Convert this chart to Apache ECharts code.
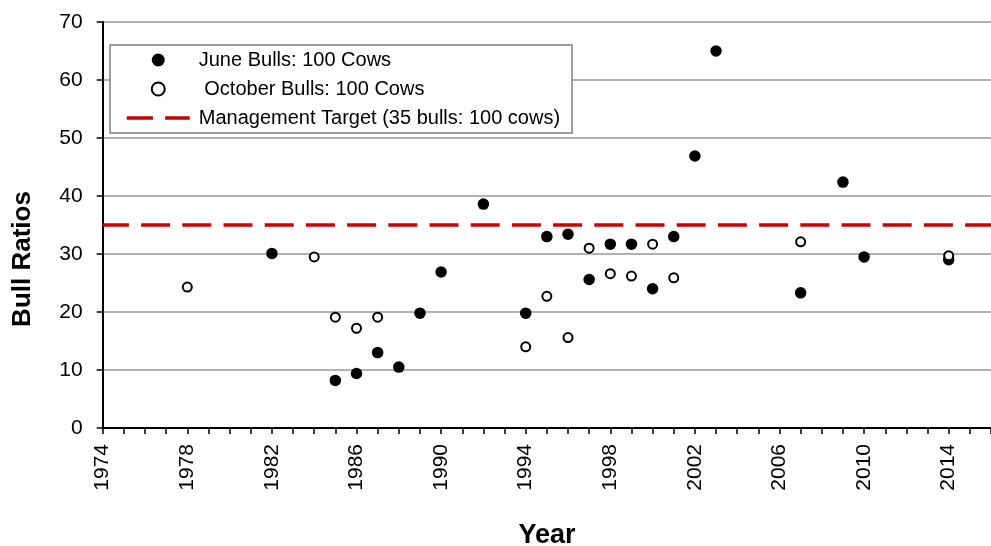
<!DOCTYPE html>
<html>
<head>
<meta charset="utf-8">
<script src="https://cdn.jsdelivr.net/npm/echarts@6/dist/echarts.min.js"></script>
<style>html,body{margin:0;padding:0;background:#fff;}#c{width:991px;height:546px;}</style>
</head>
<body>
<div id="c"></div>
<script>
const juneYears = [1982, 1985, 1986, 1987, 1988, 1989, 1990, 1992, 1994, 1995, 1996, 1997, 1998, 1999, 2000, 2001, 2002, 2003, 2007, 2009, 2010, 2014];
const juneValues = [30.1, 8.2, 9.4, 13.0, 10.5, 19.8, 26.9, 38.6, 19.8, 33.0, 33.4, 25.6, 31.7, 31.7, 24.0, 33.0, 46.9, 65.0, 23.3, 42.4, 29.5, 29.0];
const octYears = [1978, 1984, 1985, 1986, 1987, 1994, 1995, 1996, 1997, 1998, 1999, 2000, 2001, 2007, 2014];
const octValues = [24.3, 29.5, 19.1, 17.2, 19.1, 14.0, 22.7, 15.6, 31.0, 26.6, 26.2, 31.7, 25.9, 32.1, 29.7];
const targetValue = 35;
const xRange = [1974, 2016];
const yTicks = [0, 10, 20, 30, 40, 50, 60, 70];
const seriesNames = ['June Bulls: 100 Cows', ' October Bulls: 100 Cows', 'Management Target (35 bulls: 100 cows)'];

const FONT = 'Liberation Sans, Arial, sans-serif';
const chart = echarts.init(document.getElementById('c'), null, {renderer: 'canvas'});
chart.setOption({
  animation: false,
  backgroundColor: '#fff',
  grid: {left: 102.7, right: -9.45, top: 22, bottom: 118, containLabel: false},
  legend: {
    orient: 'vertical', left: 110, top: 45,
    backgroundColor: '#fff', borderColor: '#808080', borderWidth: 1.5, borderRadius: 0,
    padding: [5, 12, 5, 15],
    itemWidth: 63, itemHeight: 13, itemGap: 9,
    lineStyle: {width: 3.5},
    textStyle: {fontFamily: FONT, fontSize: 20, color: '#000', padding: [0, 0, 0, 4]},
    data: seriesNames
  },
  xAxis: {
    type: 'value', min: xRange[0], max: xRange[1], interval: 1,
    axisLine: {show: true, onZero: false, lineStyle: {color: '#000', width: 2}},
    axisTick: {show: true, inside: false, length: 6, lineStyle: {color: '#000', width: 1.5}},
    axisLabel: {
      rotate: 90, margin: 16, fontFamily: FONT, fontSize: 21, color: '#000',
      formatter: v => ((v - xRange[0]) % 4 === 0 ? String(v) : '')
    },
    splitLine: {show: false}
  },
  yAxis: {
    type: 'value', min: yTicks[0], max: yTicks[yTicks.length - 1], interval: yTicks[1] - yTicks[0],
    axisLine: {show: true, lineStyle: {color: '#000', width: 2}},
    axisTick: {show: true, inside: false, length: 6, lineStyle: {color: '#000', width: 1.5}},
    axisLabel: {margin: 20, fontFamily: FONT, fontSize: 21, color: '#000'},
    splitLine: {show: true, lineStyle: {color: '#999', width: 1.5}}
  },
  graphic: [
    {type: 'text', x: 23, y: 259, rotation: Math.PI / 2,
     style: {text: 'Bull Ratios', font: 'bold 26px Liberation Sans', fill: '#000', align: 'center', verticalAlign: 'middle'}},
    {type: 'text', x: 547, y: 522,
     style: {text: 'Year', font: 'bold 27px Liberation Sans', fill: '#000', align: 'center', verticalAlign: 'top'}}
  ],
  series: [
    {
      name: seriesNames[0], type: 'scatter', symbol: 'circle', symbolSize: 11.5,
      itemStyle: {color: '#000', opacity: 1},
      data: juneYears.map((y, i) => [y, juneValues[i]])
    },
    {
      name: seriesNames[1], type: 'scatter', symbol: 'circle', symbolSize: 9,
      itemStyle: {color: '#fff', borderColor: '#000', borderWidth: 2, opacity: 1},
      data: octYears.map((y, i) => [y, octValues[i]])
    },
    {
      name: seriesNames[2], type: 'line', symbol: 'none', showSymbol: false,
      itemStyle: {color: 'rgba(0,0,0,0)', borderWidth: 0},
      lineStyle: {color: '#cc0000', width: 3.5, type: [29, 12.2], dashOffset: 2.8},
      data: xRange.map(y => [y, targetValue])
    }
  ]
});
</script>
</body>
</html>
